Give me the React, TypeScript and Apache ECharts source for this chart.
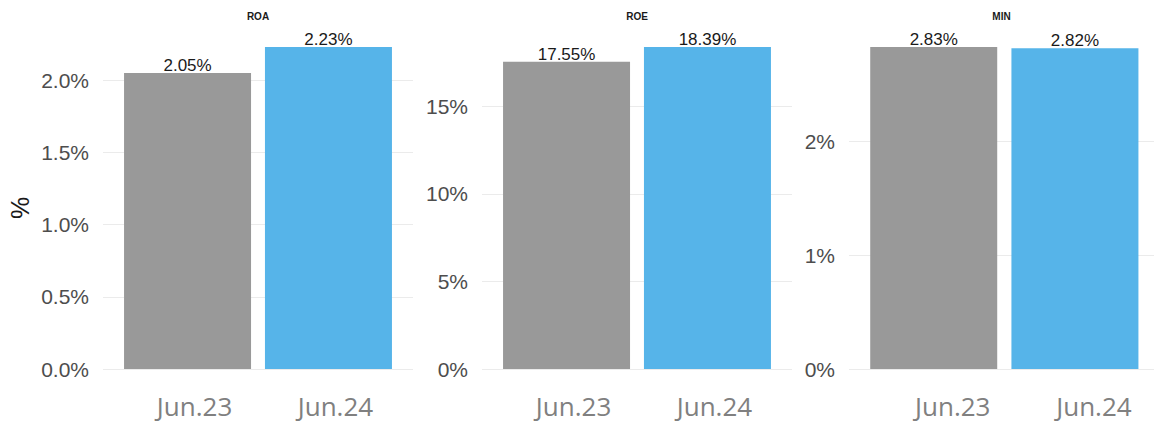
import React, { useEffect, useRef } from "react";
import * as echarts from "echarts";

const categories = ["Jun.23", "Jun.24"];
const panelTitles = ["ROA", "ROE", "MIN"];
const roaValues = [2.05, 2.23];
const roeValues = [17.55, 18.39];
const minValues = [2.83, 2.82];
const tickIntervals = [0.5, 5, 1];
const tickDecimals = [1, 0, 0];
const barColors = ["#999999", "#56B4E9"];
const yAxisTitle = "%";

const panelValues = [roaValues, roeValues, minValues];
const panelLeft = [103, 482, 849];
const panelWidth = [310, 310, 305];
const panelXMax = [2.6, 2.6, 2.56];
const labelShift = [7, 7, 19];

export default function App() {
  const ref = useRef<HTMLDivElement>(null);
  useEffect(() => {
    if (!ref.current) return;
    const chart = echarts.init(ref.current, null, { renderer: "svg" });
    const grids = panelValues.map((_, i) => ({
      left: panelLeft[i],
      width: panelWidth[i],
      top: 47,
      bottom: 57,
      containLabel: false,
    }));
    const xAxes = panelValues.map((_, i) => ({
      type: "value",
      gridIndex: i,
      min: 0.4,
      max: panelXMax[i],
      axisLine: { show: false },
      axisTick: { show: false },
      splitLine: { show: false },
      axisLabel: {
        customValues: [1, 2],
        formatter: (v: number) => categories[Math.round(v) - 1] ?? "",
        fontFamily: "Open Sans",
        fontSize: 26,
        color: "#808080",
        margin: 24,
        padding: [0, 0, 0, labelShift[i] * 2],
      },
    }));
    const yAxes = panelValues.map((_, i) => ({
      type: "value",
      gridIndex: i,
      min: 0,
      max: (e: { max: number }) => e.max,
      interval: tickIntervals[i],
      name: i === 0 ? yAxisTitle : "",
      nameLocation: "middle",
      nameRotate: 90,
      nameGap: 71,
      nameTextStyle: {
        fontFamily: "Liberation Sans, Arial, sans-serif",
        fontSize: 25,
        color: "#1a1a1a",
      },
      axisLine: { show: false },
      axisTick: { show: false },
      splitLine: {
        show: true,
        showMaxLine: false,
        lineStyle: { color: "#ebebeb", width: 1 },
      },
      axisLabel: {
        showMaxLabel: false,
        formatter: (v: number) => v.toFixed(tickDecimals[i]) + "%",
        fontFamily: "Liberation Sans, Arial, sans-serif",
        fontSize: 21,
        color: "#4d4d4d",
        margin: 14,
      },
    }));
    const series = panelValues.map((vals, i) => ({
      type: "bar",
      xAxisIndex: i,
      yAxisIndex: i,
      barWidth: 127,
      data: vals.map((v, j) => ({
        value: [j + 1, v],
        itemStyle: { color: barColors[j] },
      })),
      label: {
        show: true,
        position: "top",
        distance: -1,
        formatter: (p: { value: number[] }) => p.value[1].toFixed(2) + "%",
        fontFamily: "Liberation Sans, Arial, sans-serif",
        fontSize: 17,
        color: "#1a1a1a",
      },
    }));
    const graphic = panelTitles.map((t, i) => ({
      type: "text",
      x: i === 2 ? 855 + 305 / 2 - 6 : panelLeft[i] + panelWidth[i] / 2,
      y: 16,
      style: {
        text: t,
        fill: "#1a1a1a",
        font: "bold 10px 'Liberation Sans', Arial, sans-serif",
        textAlign: "center",
        textVerticalAlign: "middle",
      },
    }));
    chart.setOption({
      animation: false,
      backgroundColor: "#ffffff",
      grid: grids,
      xAxis: xAxes,
      yAxis: yAxes,
      series,
      graphic,
    });
    return () => chart.dispose();
  }, []);
  return <div ref={ref} style={{ width: 1154, height: 426, position: "absolute", left: 0, top: 0 }} />;
}
